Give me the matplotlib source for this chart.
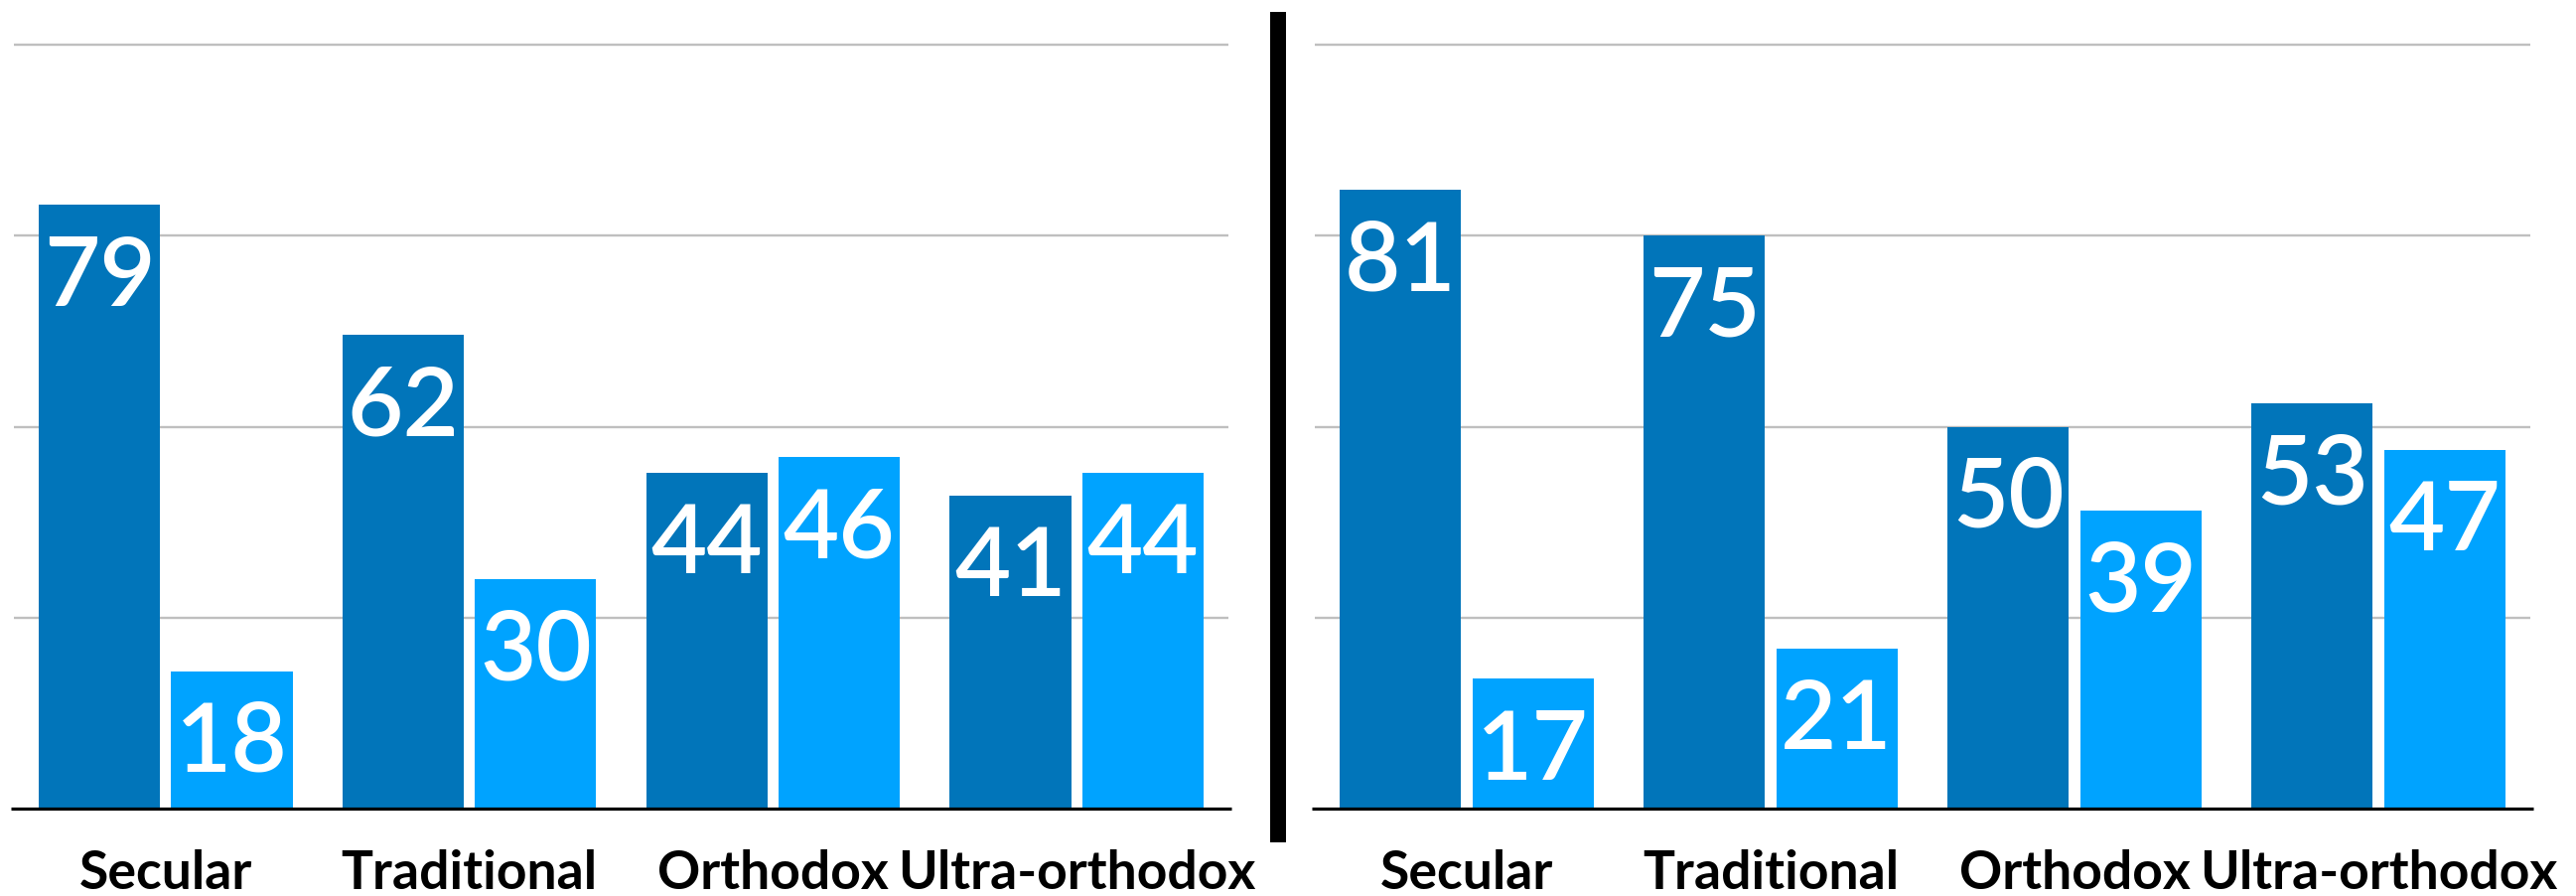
import matplotlib
matplotlib.use("Agg")
import matplotlib.pyplot as plt
from matplotlib.lines import Line2D
import numpy as np

categories = ["Secular", "Traditional", "Orthodox", "Ultra-orthodox"]
left_dark = [79, 62, 44, 41]
left_light = [18, 30, 46, 44]
right_dark = [81, 75, 50, 53]
right_light = [17, 21, 39, 47]
grid_values = [25, 50, 75, 100]

DARK = "#0175BA"
LIGHT = "#00A3FF"
GRID = "#BFBFBF"

W, H = 2594, 902
DPI = 100
fig = plt.figure(figsize=(W / DPI, H / DPI), dpi=DPI)

px_per_unit = (814 - 45) / 100.0
ytop = 101
ax_bottom_px = 814
ax_top_px = ax_bottom_px - ytop * px_per_unit


def make_axes(x0, x1):
    return fig.add_axes([x0 / W, (H - ax_bottom_px) / H, (x1 - x0) / W,
                         (ax_bottom_px - ax_top_px) / H])


def draw_panel(ax, dark, light):
    x = np.arange(len(categories))
    off = 0.218
    wid = 0.40
    ax.set_xlim(-0.5, len(categories) - 0.5)
    ax.set_ylim(0, ytop)
    for g in grid_values:
        ax.axhline(g, color=GRID, lw=1.7, zorder=0)
    b1 = ax.bar(x - off, dark, wid, color=DARK, zorder=2)
    b2 = ax.bar(x + off, light, wid, color=LIGHT, zorder=2)
    for bars, vals in ((b1, dark), (b2, light)):
        for r, v in zip(bars, vals):
            ax.annotate(str(v), xy=(r.get_x() + r.get_width() / 2, v),
                        xytext=(0, -73), textcoords="offset points",
                        ha="center", va="baseline", color="white",
                        fontsize=70, family="Lato", fontweight="semibold",
                        zorder=3)
    for xi, c in zip(x, categories):
        ax.annotate(c, xy=(xi, 0), xycoords=("data", "axes fraction"),
                    xytext=(0, -58.5), textcoords="offset points",
                    ha="center", va="baseline", color="black",
                    fontsize=38.5, family="Lato", fontweight="bold",
                    annotation_clip=False)
    ax.plot([-0.51, len(categories) - 0.49], [0, 0], color="black", lw=2.3,
            clip_on=False, zorder=4, solid_capstyle="butt")
    for s in ax.spines.values():
        s.set_visible(False)
    ax.set_xticks([])
    ax.set_yticks([])
    ax.patch.set_alpha(0)


axL = make_axes(14, 1237)
axR = make_axes(1324, 2548)
draw_panel(axL, left_dark, left_light)
draw_panel(axR, right_dark, right_light)

fig.add_artist(Line2D([1287 / W, 1287 / W], [(H - 848) / H, (H - 12) / H],
                      transform=fig.transFigure, color="black", lw=11.5,
                      solid_capstyle="butt"))

fig.savefig("out.png", dpi=DPI, facecolor="white")
